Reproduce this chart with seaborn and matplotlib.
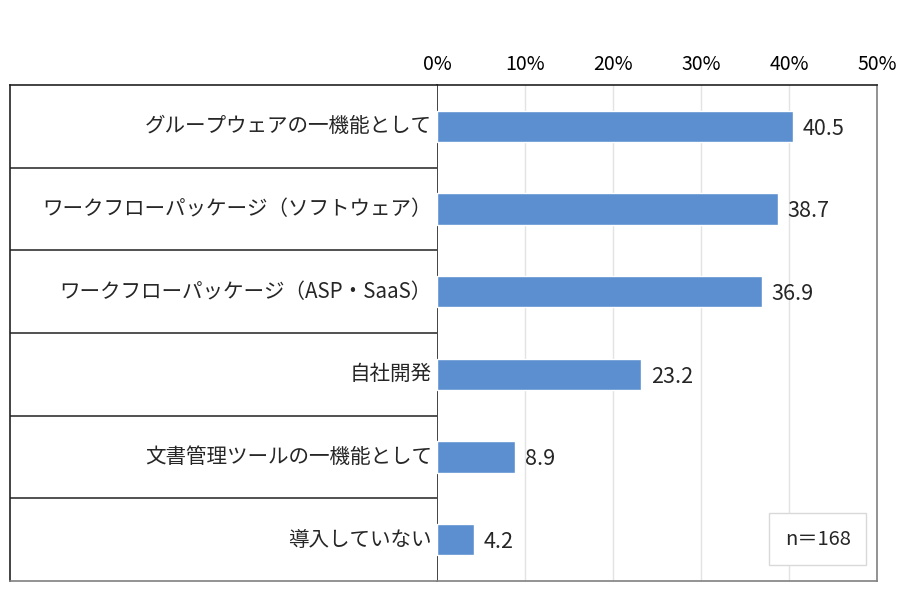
import matplotlib
matplotlib.use("Agg")
import matplotlib.pyplot as plt
from matplotlib.patches import Rectangle
import pandas as pd
import seaborn as sns

sns.set_style("white")
plt.rcParams['font.family'] = ['Noto Sans CJK JP', 'DejaVu Sans']

# data
categories = ["グループウェアの一機能として",
              "ワークフローパッケージ（ソフトウェア）",
              "ワークフローパッケージ（ASP・SaaS）",
              "自社開発",
              "文書管理ツールの一機能として",
              "導入していない"]
values = [40.5, 38.7, 36.9, 23.2, 8.9, 4.2]
x_ticks = [0, 10, 20, 30, 40, 50]
n_label = "n＝168"

df = pd.DataFrame({"item": categories, "pct": values})

fig = plt.figure(figsize=(9, 6.05), dpi=100)
W, H = 900, 605
left, right, top, bottom = 437, 877, 85, 581
ax = fig.add_axes([left / W, 1 - bottom / H, (right - left) / W, (bottom - top) / H])
lax = fig.add_axes([10 / W, 1 - bottom / H, (left - 10) / W, (bottom - top) / H])

sns.barplot(data=df, x="pct", y="item", orient="h", color="#5B8FD0",
            width=0.38, saturation=1, ax=ax, zorder=3)

ax.set_xlim(0, 50)
ax.set_ylim(len(categories) - 0.5, -0.5)
ax.set_xticks(x_ticks)
ax.set_xticklabels([f"{t}%" for t in x_ticks], fontsize=14)
ax.xaxis.tick_top()
ax.tick_params(axis="x", length=0, pad=7, colors="#000000")
ax.set_yticks([])
ax.set_xlabel("")
ax.set_ylabel("")
for t in x_ticks[1:-1]:
    ax.axvline(t, color="#E3E3E3", lw=1, zorder=1)

ax.spines["top"].set_color("#222222")
ax.spines["left"].set_color("#222222")
ax.spines["right"].set_color("#808080")
ax.spines["bottom"].set_color("#808080")
for s in ax.spines.values():
    s.set_linewidth(1.2)

for i, v in enumerate(values):
    ax.text(v + 1.1, i + 0.03, f"{v:.1f}", va="center", ha="left", fontsize=15.5)

# n box
ax.add_patch(Rectangle((0.7545, 0.032), 0.2205, 0.105, transform=ax.transAxes,
                       fc="white", ec="#D9D9D9", lw=1, zorder=4))
ax.text(0.865, 0.084, n_label, transform=ax.transAxes, ha="center", va="center",
        fontsize=14.5, zorder=5)

# label table on the left
lax.set_xlim(0, 1)
lax.set_ylim(len(categories) - 0.5, -0.5)
lax.set_xticks([])
lax.set_yticks([])
for i, c in enumerate(categories):
    lax.text(0.988, i, c, ha="right", va="center", fontsize=14.8)
for i in range(len(categories) - 1):
    lax.axhline(i + 0.5, color="#333333", lw=1.2)
lax.spines["right"].set_visible(False)
lax.spines["top"].set_color("#222222")
lax.spines["left"].set_color("#222222")
lax.spines["bottom"].set_color("#808080")
for s in lax.spines.values():
    s.set_linewidth(1.2)

fig.savefig("out.png", dpi=100)
